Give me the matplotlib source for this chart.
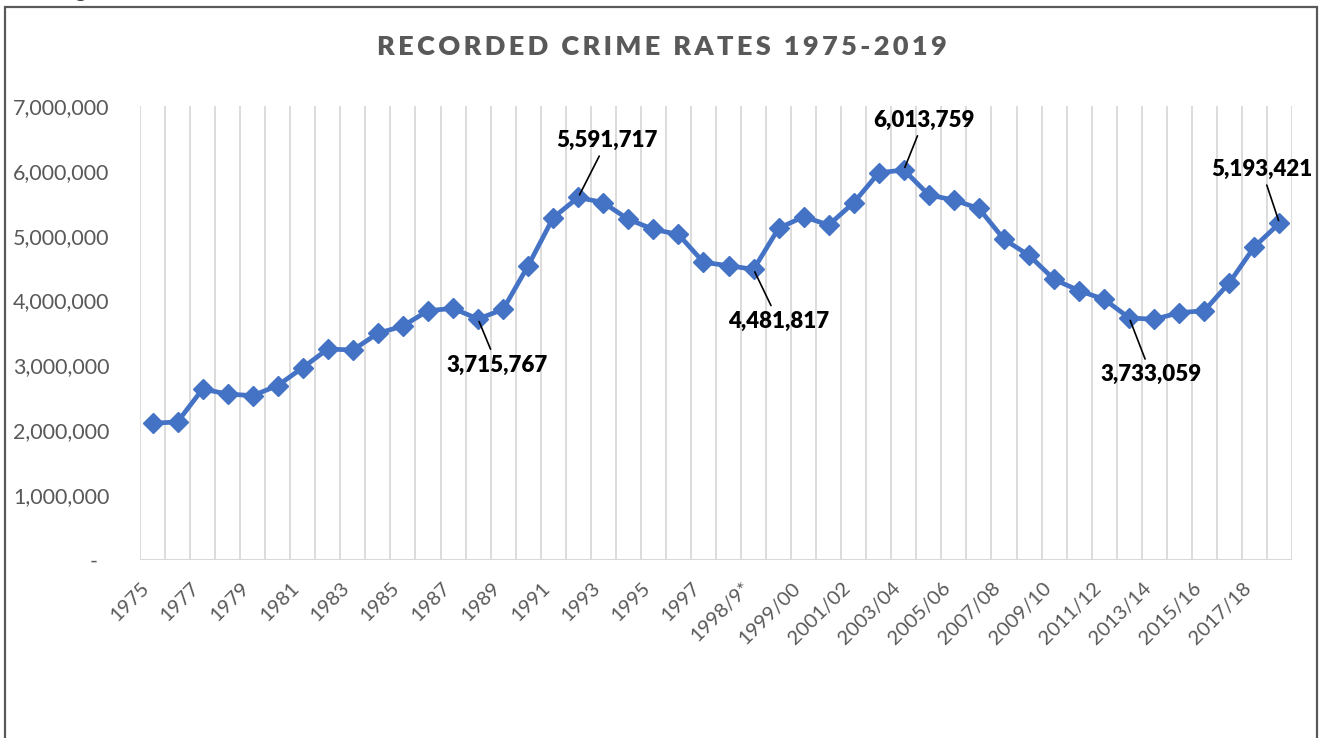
import matplotlib
matplotlib.use("Agg")
import matplotlib.pyplot as plt
from matplotlib.ticker import FuncFormatter
from matplotlib.transforms import ScaledTranslation
from matplotlib.patches import Rectangle

# Recorded crime, England & Wales
periods = [
    "1975", "1976", "1977", "1978", "1979", "1980", "1981", "1982", "1983",
    "1984", "1985", "1986", "1987", "1988", "1989", "1990", "1991", "1992",
    "1993", "1994", "1995", "1996", "1997", "1997/98", "1998/9*", "1998/99",
    "1999/00", "2000/01", "2001/02", "2002/03", "2003/04", "2004/05",
    "2005/06", "2006/07", "2007/08", "2008/09", "2009/10", "2010/11",
    "2011/12", "2012/13", "2013/14", "2014/15", "2015/16", "2016/17",
    "2017/18", "2018/19",
]
crimes = [
    2107000, 2130000, 2636000, 2559000, 2534000, 2690000, 2966000, 3253000,
    3238000, 3495000, 3608000, 3844000, 3880000, 3715767, 3865000, 4538000,
    5278000, 5591717, 5510000, 5253000, 5098000, 5020000, 4590000, 4538000,
    4481817, 5114000, 5293000, 5165000, 5510000, 5970000, 6013759, 5628000,
    5550000, 5420000, 4944000, 4697000, 4327000, 4152000, 4019000, 3733059,
    3711000, 3813000, 3844000, 4276000, 4830000, 5193421,
]
# points called out with their value, and where the label sits (pixels)
callouts = {13: (19, -46), 17: (29, 57), 24: (25, -52),
            30: (20, 50), 39: (22, -57), 45: (-18, 54)}

FONT = ["Lato", "DejaVu Sans"]
GREY = "#595959"
BLUE = "#4472C4"

plt.rcParams["font.family"] = FONT

fig = plt.figure(figsize=(13.23, 7.38), dpi=100)
ax = fig.add_axes([140 / 1323, 1 - 560 / 738, 1152 / 1323, 454 / 738])

n = len(periods)
x = list(range(n))

# vertical category gridlines and the baseline
for b in range(-1, n):
    ax.axvline(b + 0.5, color="#d9d9d9", lw=1.3, zorder=0)
ax.axhline(0, color="#d9d9d9", lw=1.5, zorder=0)

ax.plot(x, crimes, color=BLUE, lw=3.4, marker="D", ms=10.5,
        markeredgecolor=BLUE, zorder=3, solid_capstyle="round")

for i, (dx, dy) in callouts.items():
    ax.annotate(f"{crimes[i]:,}", xy=(i, crimes[i]), xytext=(dx, dy),
                textcoords="offset pixels", ha="center", va="center",
                fontsize=16, fontweight="heavy", color="black",
                arrowprops=dict(arrowstyle="-", color="black", lw=1.2,
                                shrinkA=2, shrinkB=2),
                zorder=4)

ax.set_xlim(-0.5, n - 0.5)
ax.set_ylim(0, 7000000)
ax.set_yticks(range(0, 7000001, 1000000))
ax.yaxis.set_major_formatter(FuncFormatter(lambda v, p: "-" if v == 0 else f"{v:,.0f}"))
ax.tick_params(axis="y", length=0, pad=22, labelsize=15.5, labelcolor=GREY)

ax.set_xticks(x[::2])
ax.set_xticklabels(periods[::2], rotation=45, ha="right", va="center",
                   rotation_mode="anchor")
ax.tick_params(axis="x", length=0, pad=18, labelsize=14.5, labelcolor=GREY)
for lab in ax.get_xticklabels():
    lab.set_transform(lab.get_transform()
                      + ScaledTranslation(-0.06, 0, fig.dpi_scale_trans))

# the zero label is a dash set in from the right edge
zero_lab = ax.get_yticklabels()[0]
zero_lab.set_transform(zero_lab.get_transform()
                       + ScaledTranslation(-0.12, 0, fig.dpi_scale_trans))

for s in ax.spines.values():
    s.set_visible(False)

title = "\u2009".join("RECORDED CRIME RATES 1975-2019")
fig.text(0.5, 1 - 47 / 738, title, ha="center", va="center",
         fontsize=19.5, fontweight="heavy", color=GREY, family=FONT)

# chart frame (open at the bottom) and the tail of the caption above it
fig.add_artist(Rectangle((5 / 1323, -0.05), 1312 / 1323, 1.05 - 7 / 738,
                         transform=fig.transFigure, fill=False,
                         edgecolor=GREY, lw=1.6))
fig.text(80 / 1323, 1 + 3 / 738, "g", ha="center", va="baseline",
         fontsize=16, color="#404040")

fig.savefig("out.png", dpi=100)
